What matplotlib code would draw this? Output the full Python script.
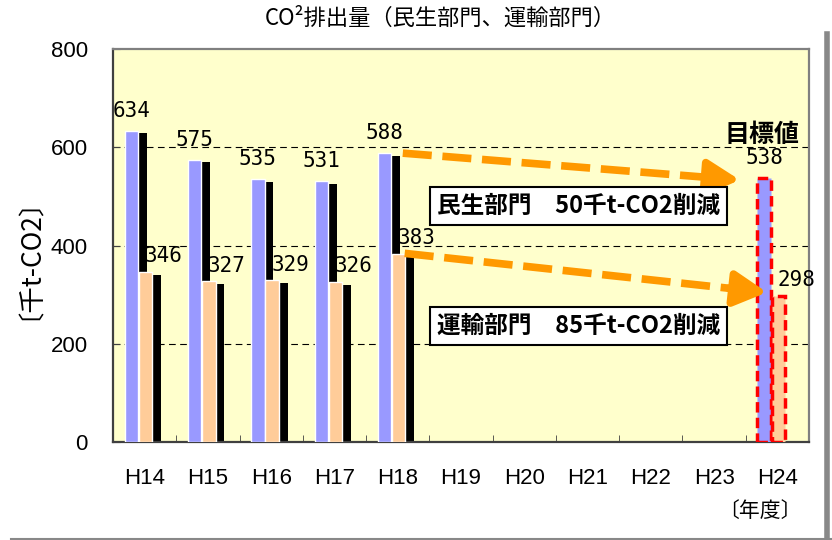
import numpy as np
import matplotlib.pyplot as plt
from matplotlib.lines import Line2D

# data
years = ["H14", "H15", "H16", "H17", "H18", "H19", "H20", "H21", "H22", "H23", "H24"]
minsei = [634, 575, 535, 531, 588]      # 民生部門 H14-H18
unyu = [346, 327, 329, 326, 383]        # 運輸部門 H14-H18
minsei_target = 538                     # H24 目標値
unyu_target = 298
yticks = [0, 200, 400, 600, 800]

BLUE = "#9999FF"
PEACH = "#FFCC99"
ORANGE = "#FF9900"
JP = ["Noto Sans CJK JP", "DejaVu Sans"]

fig = plt.figure(figsize=(8.32, 5.40), dpi=100)
ax = fig.add_axes([113 / 832, 98 / 540, 696 / 832, 393 / 540])
ax.set_facecolor("#FFFFCC")

x = np.arange(len(minsei))
w = 0.21
off_b, off_p = -0.21, 0.015
sh_dx, sh_dy = 0.14, 6

# drop shadows
ax.bar(x + off_b + sh_dx, np.array(minsei) - sh_dy, w, color="black", zorder=2)
ax.bar(x + off_p + sh_dx, np.array(unyu) - sh_dy, w, color="black", zorder=2)
# bars
ax.bar(x + off_b, minsei, w, color=BLUE, edgecolor="white", lw=1, zorder=3)
ax.bar(x + off_p, unyu, w, color=PEACH, edgecolor="white", lw=1, zorder=3)

# target year bars with red dashed outline
t = years.index("H24")
ax.bar(t + off_b, minsei_target, w, color=BLUE, edgecolor="red", lw=2.5,
       linestyle=(0, (3, 1.5)), zorder=3)
ax.bar(t + off_p, unyu_target, w, color=PEACH, edgecolor="red", lw=2.5,
       linestyle=(0, (3, 1.5)), zorder=3)

# value labels
for i, v in enumerate(minsei + [minsei_target]):
    xi = x[i] if i < len(minsei) else t
    ax.annotate(str(v), (xi + off_b, v), xytext=(0, 7), textcoords="offset points",
                ha="center", va="bottom", fontsize=15, family="DejaVu Sans Mono", zorder=6)
for i, v in enumerate(unyu + [unyu_target]):
    xi = x[i] if i < len(unyu) else t
    ax.annotate(str(v), (xi + off_p, v), xytext=(13, 4), textcoords="offset points",
                ha="center", va="bottom", fontsize=15, family="DejaVu Sans Mono", zorder=6)

# dashed reduction arrows
for (x0, y0), (x1, y1) in [((4.08, 588), (9.45, 533)), ((4.11, 384), (9.88, 304))]:
    f = 0.9
    xm, ym = x0 + (x1 - x0) * f, y0 + (y1 - y0) * f
    ax.plot([x0, xm], [y0, ym], color=ORANGE, lw=5.5, ls=(0, (3.8, 1.4)),
            solid_capstyle="butt", dash_capstyle="butt", zorder=5)
    ax.annotate("", xy=(x1, y1), xytext=(xm - (x1 - x0) * 0.02, ym - (y1 - y0) * 0.02),
                arrowprops=dict(arrowstyle="-|>,head_length=1.4,head_width=0.75",
                                color=ORANGE, lw=5.5, mutation_scale=14), zorder=5)

box = dict(boxstyle="square,pad=0.3", fc="white", ec="black", lw=1.5)
ax.text(6.86, (441 - 206) / 0.49, "民生部門\u300050千t-CO2削減", ha="center", va="center",
        fontsize=17, fontweight="bold", family=JP, bbox=box, zorder=6)
ax.text(6.86, (441 - 325) / 0.49, "運輸部門\u300085千t-CO2削減", ha="center", va="center",
        fontsize=17, fontweight="bold", family=JP, bbox=box, zorder=6)
ax.text(9.75, (441 - 135) / 0.49, "目標値", ha="center", va="center",
        fontsize=18, fontweight="bold", family=JP, zorder=6)

ax.set_xlim(-0.5, len(years) - 0.5)
ax.set_ylim(0, 800)
ax.set_yticks(yticks)
ax.set_yticklabels([str(v) for v in yticks], family="Liberation Sans", fontsize=16)
ax.set_xticks(np.arange(len(years)))
ax.set_xticklabels(years, family="Liberation Sans", fontsize=16)
ax.tick_params(axis="x", length=0, pad=19)
ax.set_xticks(np.arange(len(years) + 1) - 0.5, minor=True)
ax.tick_params(axis="x", which="minor", direction="in", length=5, color="#404040")
ax.tick_params(axis="y", direction="in", length=5, pad=18, color="#404040")

for yv in yticks[1:-1]:
    ax.axhline(yv, color="black", lw=0.8, ls=(0, (6, 4)), zorder=1)

for s in ["left", "bottom"]:
    ax.spines[s].set_color("#404040")
    ax.spines[s].set_linewidth(1.6)
for s in ["top", "right"]:
    ax.spines[s].set_color("#808080")
    ax.spines[s].set_linewidth(1.6)

ax.set_ylabel("〔千t-CO2〕", family=JP, fontsize=19)
ax.yaxis.set_label_coords(-0.12, 0.5)

fig.text(440 / 832, 1 - 18 / 540, "CO²排出量（民生部門、運輸部門）", ha="center", va="center",
         fontsize=16, family=JP)
fig.text(760 / 832, 1 - 511 / 540, "〔年度〕", ha="center", va="center", fontsize=15, family=JP)

# outer frame lines
fig.add_artist(Line2D([11 / 832, 1], [1 / 540, 1 / 540], color="#888888", lw=1.5))
fig.add_artist(Line2D([827 / 832, 827 / 832], [0, 1 - 34 / 540], color="#888888", lw=4))

fig.savefig("out.png", dpi=100)
